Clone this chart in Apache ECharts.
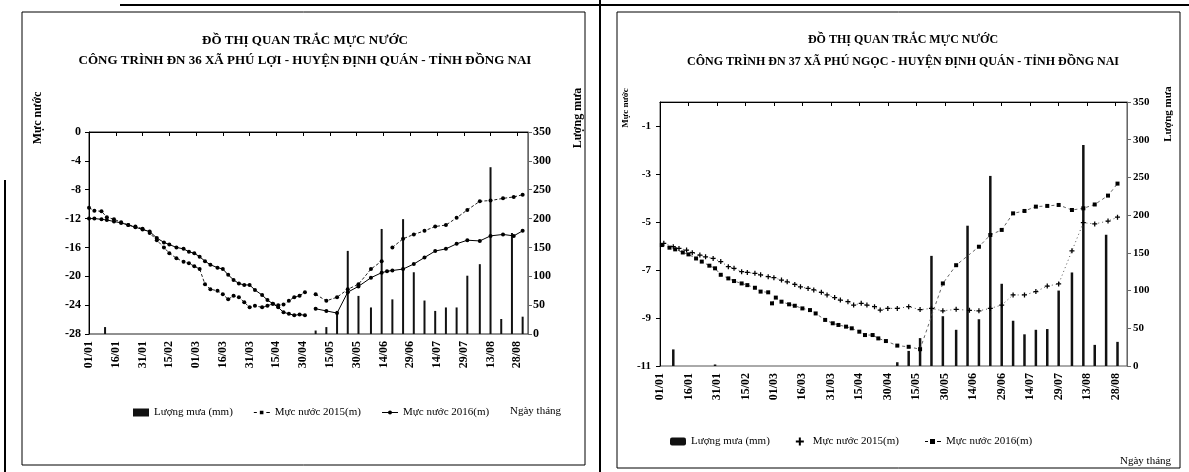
<!DOCTYPE html>
<html>
<head>
<meta charset="utf-8">
<script src="https://cdn.jsdelivr.net/npm/echarts@6/dist/echarts.min.js"></script>
<style>
  html, body { margin: 0; padding: 0; background: #fff; }
  #chart { width: 1189px; height: 472px; }
</style>
</head>
<body>
<div id="chart"></div>
<script>
// ---------- tick labels (day index 0 = 01/01, every 15 days) ----------
const xLabels = ['01/01','16/01','31/01','15/02','01/03','16/03','31/03','15/04','30/04',
                 '15/05','30/05','14/06','29/06','14/07','29/07','13/08','28/08'];

// ---------- Chart 1 : ĐN 36 Phú Lợi ----------
const days36 = [0,3,7,10,14,18,22,26,30,34,38,42,45,49,53,56,59,62,65,68,72,75,78,81,84,87,90,93,97,100,
                103,106,109,112,115,118,121,124,127,133,139,145,151,158,164,167,170,176,182,188,194,200,206,212,219,225,232,238,243];
const level36_2015 = [-10.5,-10.9,-11.0,-11.8,-12.1,-12.5,-12.9,-13.1,-13.4,-14.0,
                      -15.0,-16.0,-16.8,-17.5,-18.0,-18.2,-18.6,-19.0,-21.1,-21.8,
                      -22.0,-22.5,-23.2,-22.7,-22.9,-23.6,-24.3,-24.1,-24.3,-24.1,
                      -23.8,-24.0,-23.9,-23.4,-22.9,-22.7,-22.2,null,-22.5,-23.4,
                      -22.9,-21.8,-21.1,-19.0,-17.9,null,-16.0,-14.8,-14.2,-13.7,
                      -13.1,-12.9,-11.9,-10.8,-9.6,-9.5,-9.2,-9.0,-8.7];
const level36_2016 = [-12.0,-12.0,-12.1,-12.2,-12.4,-12.6,-12.9,-13.2,-13.5,-13.8,
                      -14.7,-15.3,-15.6,-16.0,-16.2,-16.6,-16.8,-17.3,-17.9,-18.4,
                      -18.8,-19.0,-19.8,-20.5,-21.0,-21.2,-21.2,-21.9,-22.6,-23.3,
                      -23.8,-24.3,-25.0,-25.2,-25.4,-25.3,-25.4,null,-24.5,-24.8,
                      -25.1,-22.2,-21.4,-20.2,-19.5,-19.3,-19.2,-19.0,-18.3,-17.4,
                      -16.5,-16.2,-15.5,-15.0,-15.1,-14.4,-14.2,-14.4,-13.7];
const rainDays36 = [9,127,133,139,145,151,158,164,170,176,182,188,194,200,206,212,219,225,231,237,243];
const rain36     = [12,6,12,40,144,66,46,182,60,199,107,58,40,46,46,101,121,289,26,175,30];

// ---------- Chart 2 : ĐN 37 Phú Ngọc ----------
const days37a = [2,7,10,14,17,21,24,28,32,36,39,43,46,50,53,57,60,64,67,71,74,78,81,85,88,92,95,99,102,106,
                 109,113,116,120,125,131,137,143,149,156,163,168,174,180,186,192,198,204,210,217,223,229,236,241];
const level37_2015 = [-5.89,-6.03,-6.1,-6.17,-6.28,-6.38,-6.45,-6.52,-6.65,-6.86,-6.93,-7.07,-7.1,-7.14,-7.2,
                      -7.28,-7.32,-7.42,-7.49,-7.6,-7.7,-7.77,-7.83,-7.93,-8.04,-8.15,-8.25,-8.32,-8.46,-8.39,
                      -8.46,-8.53,-8.67,-8.6,-8.6,-8.53,-8.65,-8.6,-8.7,-8.64,-8.68,-8.7,-8.6,-8.46,
                      -8.04,-8.04,-7.9,-7.67,-7.58,-6.2,-5.03,-5.08,-4.96,-4.8];
const days37b = [1,5,8,12,15,19,22,26,29,32,36,39,43,46,50,53,57,58,59,61,64,68,71,75,79,82,87,91,94,98,
                 101,105,108,112,115,119,125,131,137,149,156,168,174,180,186,192,198,204,210,217,223,229,236,241];
const level37_2016 = [-5.96,-6.07,-6.14,-6.27,-6.35,-6.52,-6.65,-6.82,-6.93,-7.2,-7.35,-7.46,-7.56,-7.63,-7.74,
                      -7.9,-7.93,null,-8.39,-8.15,-8.32,-8.43,-8.49,-8.6,-8.67,-8.81,-9.08,-9.22,-9.29,-9.36,
                      -9.43,-9.57,-9.71,-9.71,-9.85,-9.96,-10.15,-10.2,-10.3,-7.56,-6.8,-6.03,-5.54,-5.33,
                      -4.64,-4.54,-4.36,-4.33,-4.29,-4.5,-4.43,-4.27,-3.9,-3.4];
const rainDays37 = [7,29,125,131,137,143,149,156,162,168,174,180,186,192,198,204,210,217,223,229,235,241];
const rain37     = [22,2,5,20,37,146,66,48,186,62,252,109,60,42,48,49,100,124,293,28,174,32];

// ---------- names ----------
const NAME_RAIN = 'Lượng mưa (mm)';
const NAME_2015 = 'Mực nước 2015(m)';
const NAME_2016 = 'Mực nước 2016(m)';

const pairs = (xs, ys) => xs.map((x, i) => [x, ys[i]]);
const SERIF = "'Liberation Serif', 'DejaVu Serif', serif";

function xAxisCfg(gi, fs) {
  return {
    gridIndex: gi, type: 'value', min: 0, max: 246, interval: 15,
    axisLine: { show: true, lineStyle: { color: '#000', width: 1 } },
    axisTick: { show: true, length: 4, lineStyle: { color: '#000' } },
    splitLine: { show: false },
    axisLabel: {
      rotate: 90, margin: 7, showMaxLabel: false,
      fontFamily: SERIF, fontWeight: 'bold', fontSize: fs, color: '#000',
      formatter: v => (Number.isInteger(v / 15) && xLabels[v / 15]) ? xLabels[v / 15] : ''
    }
  };
}
function yAxisCfg(gi, min, max, interval, pos, fs, lineColor, margin) {
  return {
    gridIndex: gi, type: 'value', min, max, interval, position: pos,
    axisLine: { show: true, lineStyle: { color: lineColor, width: 1 } },
    axisTick: { show: true, length: 4, lineStyle: { color: lineColor } },
    splitLine: { show: false },
    axisLabel: { fontFamily: SERIF, fontWeight: 'bold', fontSize: fs, color: '#000', margin, showMaxLabel: pos === 'left' && max === 0 && min === -11 ? false : true }
  };
}

const legendText = { fontFamily: SERIF, fontSize: 11, color: '#000' };
const iconLineDot = 'path://M0,3.5h16v1h-16z M8,2a2,2 0 1,1 0,4a2,2 0 1,1 0,-4z';
const iconDashDot = 'path://M0,3.4h3v1.2h-3z M6,2.2h3.6v3.6h-3.6z M12.5,3.4h3.5v1.2h-3.5z';
const iconPlus = 'path://M3,0h2v3h3v2h-3v3h-2v-3h-3v-2h3z';
const iconDashSquare = 'path://M0,3.4h3v1.2h-3z M5,1.5h5v5h-5z M12,3.4h4v1.2h-4z';

const chart = echarts.init(document.getElementById('chart'), null, { renderer: 'canvas' });

const option = {
  animation: false,
  backgroundColor: '#fff',
  title: [
    { text: 'ĐỒ THỊ QUAN TRẮC MỰC NƯỚC',
      subtext: 'CÔNG TRÌNH ĐN 36 XÃ PHÚ LỢI - HUYỆN ĐỊNH QUÁN - TỈNH ĐỒNG NAI',
      left: 300, top: 29, textAlign: 'center', itemGap: 7,
      textStyle: { fontFamily: SERIF, fontWeight: 'bold', fontSize: 13, color: '#000' },
      subtextStyle: { fontFamily: SERIF, fontWeight: 'bold', fontSize: 13, color: '#000' } },
    { text: 'ĐỒ THỊ QUAN TRẮC MỰC NƯỚC',
      subtext: 'CÔNG TRÌNH ĐN 37 XÃ PHÚ NGỌC - HUYỆN ĐỊNH QUÁN - TỈNH ĐỒNG NAI',
      left: 898, top: 29, textAlign: 'center', itemGap: 10,
      textStyle: { fontFamily: SERIF, fontWeight: 'bold', fontSize: 12, color: '#000' },
      subtextStyle: { fontFamily: SERIF, fontWeight: 'bold', fontSize: 12, color: '#000' } }
  ],
  legend: [
    { left: 128, top: 402, itemWidth: 16, itemHeight: 8, itemGap: 21, selectedMode: false,
      textStyle: legendText,
      data: [ { name: NAME_RAIN, icon: 'rect' },
              { name: NAME_2015, icon: iconDashDot },
              { name: NAME_2016, icon: iconLineDot } ] },
    { left: 665, top: 431, itemWidth: 16, itemHeight: 8, itemGap: 26, selectedMode: false,
      textStyle: legendText,
      data: [ { name: NAME_RAIN, icon: 'roundRect' },
              { name: NAME_2015, icon: iconPlus },
              { name: NAME_2016, icon: iconDashSquare } ] }
  ],
  grid: [
    { left: 89, top: 132, width: 439, height: 202, show: true, borderColor: '#222', borderWidth: 1 },
    { left: 660, top: 102, width: 467, height: 264, show: true, borderColor: '#555', borderWidth: 1 }
  ],
  xAxis: [ xAxisCfg(0, 12), xAxisCfg(1, 12) ],
  yAxis: [
    yAxisCfg(0, -28, 0, 4, 'left', 12, '#000', 8),
    yAxisCfg(0, 0, 350, 50, 'right', 12, '#666', 5),
    yAxisCfg(1, -11, 0, 2, 'left', 11, '#000', 9),
    yAxisCfg(1, 0, 350, 50, 'right', 11, '#666', 6)
  ],
  series: [
    { name: NAME_RAIN, type: 'bar', xAxisIndex: 0, yAxisIndex: 1, barWidth: 2,
      itemStyle: { color: '#111' }, z: 1, data: pairs(rainDays36, rain36) },
    { name: NAME_2015, type: 'line', xAxisIndex: 0, yAxisIndex: 0, symbol: 'circle', symbolSize: 4,
      itemStyle: { color: '#000' }, lineStyle: { color: '#222', width: 1, type: [3, 2] }, z: 3,
      data: pairs(days36, level36_2015) },
    { name: NAME_2016, type: 'line', xAxisIndex: 0, yAxisIndex: 0, symbol: 'circle', symbolSize: 4,
      itemStyle: { color: '#000' }, lineStyle: { color: '#000', width: 1 }, z: 3,
      data: pairs(days36, level36_2016) },

    { name: NAME_RAIN, type: 'bar', xAxisIndex: 1, yAxisIndex: 3, barWidth: 2.5,
      itemStyle: { color: '#111' }, z: 1, data: pairs(rainDays37, rain37) },
    { name: NAME_2015, type: 'line', xAxisIndex: 1, yAxisIndex: 2, symbol: iconPlus, symbolSize: 5,
      itemStyle: { color: '#000' }, lineStyle: { color: '#555', width: 1, type: [1, 3] }, z: 3,
      data: pairs(days37a, level37_2015) },
    { name: NAME_2016, type: 'line', xAxisIndex: 1, yAxisIndex: 2, symbol: 'rect', symbolSize: 4,
      itemStyle: { color: '#000' }, lineStyle: { color: '#666', width: 1, type: [3, 3] }, z: 3,
      data: pairs(days37b, level37_2016) }
  ],
  graphic: [
    // scan frame lines
    { type: 'rect', shape: { x: 22, y: 12, width: 563, height: 453 }, style: { fill: 'none', stroke: '#000', lineWidth: 1 } },
    { type: 'rect', shape: { x: 617, y: 12, width: 563, height: 456 }, style: { fill: 'none', stroke: '#000', lineWidth: 1 } },
    { type: 'line', shape: { x1: 120, y1: 5, x2: 1189, y2: 5 }, style: { stroke: '#000', lineWidth: 2 } },
    { type: 'line', shape: { x1: 600, y1: 0, x2: 600, y2: 472 }, style: { stroke: '#000', lineWidth: 2 } },
    { type: 'line', shape: { x1: 5, y1: 180, x2: 5, y2: 472 }, style: { stroke: '#000', lineWidth: 2 } },
    // axis names
    { type: 'text', x: 38, y: 118, rotation: Math.PI / 2,
      style: { text: 'Mực nước', font: "bold 12px 'Liberation Serif'", fill: '#000', align: 'center', verticalAlign: 'middle' } },
    { type: 'text', x: 578, y: 118, rotation: Math.PI / 2,
      style: { text: 'Lượng mưa', font: "bold 12px 'Liberation Serif'", fill: '#000', align: 'center', verticalAlign: 'middle' } },
    { type: 'text', x: 626, y: 108, rotation: Math.PI / 2,
      style: { text: 'Mực nước', font: "bold 9px 'Liberation Serif'", fill: '#000', align: 'center', verticalAlign: 'middle' } },
    { type: 'text', x: 1168, y: 114, rotation: Math.PI / 2,
      style: { text: 'Lượng mưa', font: "bold 11px 'Liberation Serif'", fill: '#000', align: 'center', verticalAlign: 'middle' } },
    { type: 'text', x: 510, y: 411,
      style: { text: 'Ngày tháng', font: "11px 'Liberation Serif'", fill: '#000', align: 'left', verticalAlign: 'middle' } },
    { type: 'text', x: 1120, y: 461,
      style: { text: 'Ngày tháng', font: "11px 'Liberation Serif'", fill: '#000', align: 'left', verticalAlign: 'middle' } }
  ]
};
chart.setOption(option);
</script>
</body>
</html>
